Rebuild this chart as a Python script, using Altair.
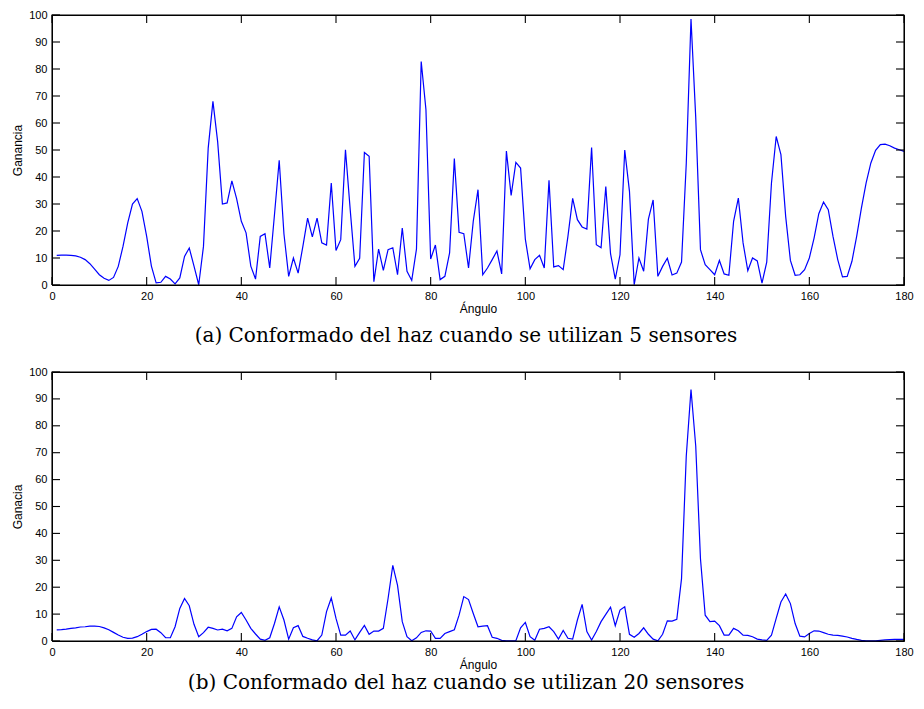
import altair as alt
import pandas as pd

angles = list(range(1, 181))

gain_5 = [
    11.0, 11.1, 11.1, 11.0, 10.8, 10.3, 9.4, 7.9, 5.9, 3.8,
    2.5, 1.7, 2.8, 6.9, 14.3, 23.0, 30.0, 32.0, 27.3, 18.0,
    7.0, 0.8, 1.0, 3.2, 2.2, 0.4, 2.6, 10.6, 13.7, 7.0,
    0.1, 14.3, 50.7, 68.0, 53.0, 30.0, 30.4, 38.6, 32.0, 23.6,
    19.3, 7.0, 2.2, 18.0, 19.0, 6.3, 26.0, 46.2, 19.0, 3.2,
    10.0, 4.4, 14.3, 24.8, 17.8, 24.8, 15.6, 14.8, 37.8, 12.8,
    16.8, 50.1, 27.9, 6.9, 9.9, 49.1, 47.7, 1.2, 13.3, 5.4,
    13.1, 13.8, 3.8, 21.1, 5.1, 1.7, 13.3, 82.8, 65.0, 9.6,
    14.8, 2.0, 3.2, 11.9, 46.8, 19.5, 19.0, 6.3, 23.6, 35.3,
    3.8, 6.3, 9.4, 12.6, 4.1, 49.6, 33.2, 45.4, 43.3, 17.0,
    6.0, 9.4, 11.0, 6.3, 38.8, 6.7, 7.2, 5.7, 18.0, 32.1,
    24.2, 21.5, 20.7, 50.9, 14.9, 13.8, 36.5, 11.6, 2.2, 11.2,
    50.0, 34.7, 0.1, 10.0, 5.1, 24.4, 31.5, 3.2, 6.9, 9.9,
    3.7, 4.4, 8.5, 45.0, 98.5, 62.0, 13.1, 7.5, 5.7, 3.8,
    9.1, 4.1, 3.6, 23.6, 32.2, 15.6, 5.3, 10.0, 8.9, 0.7,
    8.5, 37.8, 55.0, 48.3, 25.4, 9.1, 3.6, 3.8, 5.7, 10.0,
    17.4, 26.4, 30.7, 27.9, 18.0, 9.4, 3.0, 3.2, 8.8, 18.0,
    28.5, 37.8, 45.2, 49.9, 52.0, 52.2, 51.6, 50.7, 50.1, 49.5,
]

gain_20 = [
    4.1, 4.2, 4.4, 4.7, 4.9, 5.2, 5.3, 5.5, 5.5, 5.4,
    4.9, 4.2, 3.2, 2.2, 1.4, 1.0, 1.1, 1.6, 2.5, 3.5,
    4.3, 4.4, 3.1, 1.2, 1.2, 5.3, 12.1, 15.8, 13.1, 6.2,
    1.6, 3.1, 5.1, 4.7, 4.1, 4.4, 3.8, 4.7, 9.0, 10.6,
    7.8, 4.7, 2.6, 0.7, 0.25, 1.2, 6.5, 12.7, 7.8, 0.7,
    4.9, 5.7, 1.7, 1.0, 0.4, 0.1, 2.2, 10.9, 16.0, 8.4,
    2.2, 2.2, 3.7, 0.4, 3.2, 5.8, 2.5, 3.7, 3.7, 4.7,
    15.8, 28.1, 20.7, 7.2, 1.6, 0.1, 1.2, 3.2, 3.8, 3.7,
    1.0, 1.0, 2.8, 3.5, 4.2, 9.6, 16.5, 15.4, 10.2, 5.3,
    5.5, 5.7, 1.4, 1.0, 0.25, 0.1, 0.1, 0.1, 4.9, 6.9,
    1.6, 0.25, 4.4, 4.7, 5.3, 3.5, 0.7, 3.9, 1.0, 0.7,
    7.8, 13.6, 3.5, 0.4, 3.5, 7.2, 9.9, 12.6, 5.7, 11.5,
    12.7, 2.5, 1.4, 2.8, 4.9, 2.5, 0.7, 0.1, 2.5, 7.5,
    7.4, 8.1, 23.2, 68.8, 93.5, 72.5, 30.6, 9.6, 7.2, 7.4,
    5.7, 2.2, 2.2, 4.7, 3.8, 2.2, 2.1, 1.6, 0.7, 0.4,
    0.25, 2.2, 8.4, 14.5, 17.5, 13.9, 6.5, 1.8, 1.5, 2.8,
    3.8, 3.7, 3.1, 2.5, 2.2, 2.1, 1.8, 1.5, 1.0, 0.6,
    0.25, 0.1, 0.1, 0.1, 0.25, 0.4, 0.5, 0.6, 0.6, 0.6,
]

x_ticks = list(range(0, 181, 20))
y_ticks = list(range(0, 101, 10))
x_domain = [0, 180]
y_domain = [0, 100]

caption_a = "(a) Conformado del haz cuando se utilizan 5 sensores"
caption_b = "(b) Conformado del haz cuando se utilizan 20 sensores"

LABEL_FONT = "Liberation Sans, Arial, Helvetica, sans-serif"
CAPTION_FONT = "DejaVu Serif, serif"
WIDTH = 852
TICK_PX = 8


def decor_table(height):
    """Frame outline and inward ticks as short polylines, in data units."""
    tx = TICK_PX * (x_domain[1] - x_domain[0]) / WIDTH
    ty = TICK_PX * (y_domain[1] - y_domain[0]) / height
    x0, x1 = x_domain
    y0, y1 = y_domain
    rows = []
    corners = [(x0, y0), (x1, y0), (x1, y1), (x0, y1), (x0, y0)]
    for i, (cx, cy) in enumerate(corners):
        rows.append(("frame", i, cx, cy))
    for v in x_ticks:
        rows += [(f"b{v}", 0, v, y0), (f"b{v}", 1, v, y0 + ty)]
        rows += [(f"t{v}", 0, v, y1), (f"t{v}", 1, v, y1 - ty)]
    for v in y_ticks:
        rows += [(f"l{v}", 0, x0, v), (f"l{v}", 1, x0 + tx, v)]
        rows += [(f"r{v}", 0, x1, v), (f"r{v}", 1, x1 - tx, v)]
    return pd.DataFrame(rows, columns=["seg", "o", "px", "py"])


def panel(values, ytitle, caption, height, cap_offset):
    df = pd.DataFrame({"angle": angles, "gain": values})
    xs = alt.Scale(domain=x_domain, nice=False)
    ys = alt.Scale(domain=y_domain, nice=False)

    no_ax = dict(ticks=False, domain=False, grid=False, labelFontSize=11,
                 labelFont=LABEL_FONT, titleFont=LABEL_FONT, titleFontSize=12,
                 titleFontWeight="normal", labelColor="black",
                 titleColor="black", labelFlush=False, labelOverlap=False)

    main = alt.Chart(df).mark_line(color="#0000ff", strokeWidth=1.2).encode(
        x=alt.X("angle:Q", scale=xs,
                axis=alt.Axis(orient="bottom", values=x_ticks, title="Ángulo",
                              labelPadding=5, titlePadding=2, **no_ax)),
        y=alt.Y("gain:Q", scale=ys,
                axis=alt.Axis(orient="left", values=y_ticks, title=ytitle,
                              labelPadding=5, titlePadding=4, **no_ax)),
    )

    decor = alt.Chart(decor_table(height)).mark_line(
        color="#000000", strokeWidth=1.1
    ).encode(
        x=alt.X("px:Q", scale=xs, axis=None),
        y=alt.Y("py:Q", scale=ys, axis=None),
        detail="seg:N",
        order=alt.Order("o:Q"),
    )

    return alt.layer(main, decor).resolve_axis(
        x="independent", y="independent"
    ).properties(
        width=WIDTH, height=height,
        title=alt.TitleParams(caption, orient="bottom", anchor="middle",
                              frame="group", font=CAPTION_FONT, fontSize=20,
                              fontWeight="normal", color="black",
                              offset=cap_offset, dx=-12),
    )


top = panel(gain_5, "Ganancia", caption_a, 270, 12)
bottom = panel(gain_20, "Ganacia", caption_b, 269, 3)

chart = alt.vconcat(top, bottom, spacing=87, bounds="flush").properties(
    autosize=alt.AutoSizeParams(type="pad"),
    padding={"left": 3, "top": 0, "right": 0, "bottom": 0},
    background="white",
).configure_view(stroke="#000000", strokeWidth=1)

chart.save("out.html", embed_options={"renderer": "svg", "actions": False})
